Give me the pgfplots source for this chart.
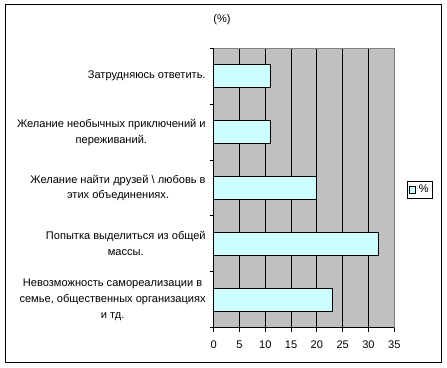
\documentclass[border=0pt]{standalone}
\usepackage{pgfplots}
\pgfplotsset{compat=1.18}
\usepackage{fontspec}
\setmainfont{Liberation Sans}
\definecolor{barfill}{HTML}{CCFFFF}
\definecolor{plotbg}{HTML}{C0C0C0}
\begin{document}
\begin{tikzpicture}
\useasboundingbox (0pt,0pt) rectangle (335.25pt,276pt);
\draw[black,line width=0.75pt] (3.75pt,3.75pt) rectangle (330.75pt,272.25pt);
\node[font=\fontsize{8.3}{10}\selectfont] at (166.5pt,261pt) {(\%)};
\begin{axis}[
  at={(160.275pt,30.225pt)}, anchor=south west,
  scale only axis, width=135.45pt, height=209.55pt,
  xbar, bar width=0.41,
  xmin=0, xmax=35, ymin=0.5, ymax=5.5,
  axis background/.style={fill=plotbg},
  axis line style={draw=none},
  tick pos=left,
  xtick={0,5,...,35},
  xmajorgrids, major grid style={black, line width=0.75pt},
  ytick={0.5,1.5,...,5.5},
  yticklabels={},
  extra y ticks={1,2,3,4,5},
  extra y tick labels={
    {Невозможность самореализации в\\семье, общественных организациях\\и тд.},
    {Попытка выделиться из общей\\массы.},
    {Желание найти друзей \textbackslash{} любовь в\\этих объединениях.},
    {Желание необычных приключений и\\переживаний.},
    {Затрудняюсь ответить.}},
  extra y tick style={major tick length=0pt, ymajorgrids=false,
    yticklabel style={align=center, font=\fontsize{8.3}{11.9}\selectfont, xshift=-2.5pt}},
  xticklabel style={font=\fontsize{8.3}{10}\selectfont, yshift=-3pt},
  /pgf/number format/assume math mode=true,
  tick align=outside,
  major tick length=3pt,
  tick style={draw=black, line width=0.75pt},
  legend style={at={(1.07,0.493)}, anchor=west, draw=black, line width=0.75pt,
    font=\fontsize{8.3}{10}\selectfont, inner sep=1pt, row sep=0pt},
  legend image code/.code={\draw[#1, line width=0.5pt] (0pt,-2.5pt) rectangle (5pt,2.5pt);},
  clip=false,
]
\addplot[fill=barfill, draw=black, line width=0.75pt] coordinates {(23,1) (32,2) (20,3) (11,4) (11,5)};
\addlegendentry{\%}
\draw[black, line width=0.75pt] (axis cs:0,0.5) -- (axis cs:0,5.5);
\draw[black, line width=0.75pt] (axis cs:0,0.5) -- (axis cs:35,0.5);
\draw[gray, line width=0.75pt] (axis cs:0,5.5) -- (axis cs:35,5.5) -- (axis cs:35,0.5);
\end{axis}
\end{tikzpicture}
\end{document}
